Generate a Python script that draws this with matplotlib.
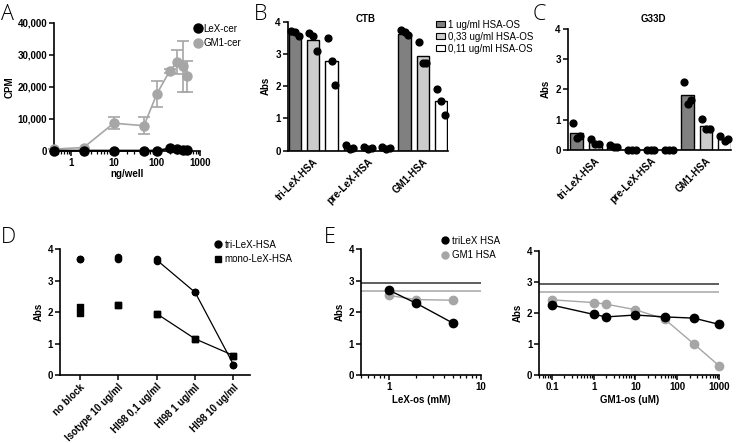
import matplotlib
matplotlib.use("Agg")
import matplotlib.pyplot as plt
import matplotlib.ticker as mticker
import numpy as np
from matplotlib.patches import Patch
from matplotlib.lines import Line2D

plt.rcParams['font.family'] = ['Liberation Sans', 'DejaVu Sans']
plt.rcParams['font.size'] = 7
plt.rcParams['axes.linewidth'] = 1.2

# ---------------- data ----------------
# Panel A
a_x = [0.4, 2, 10, 50, 100, 200, 300, 400, 500]
a_lex = [0, 0, 0, 0, 0, 700, 600, 200, 200]
a_gm1 = [500, 1000, 8600, 7800, 17800, 25000, 27800, 26400, 23200]
a_gm1_err = [0, 0, 1800, 2700, 4100, 600, 3700, 7900, 4800]

# Panels B and C
bar_groups = ["tri-LeX-HSA", "pre-LeX-HSA", "GM1-HSA"]
conc_labels = ["1 ug/ml HSA-OS", "0,33 ug/ml HSA-OS", "0,11 ug/ml HSA-OS"]
b_means = [3.62, 3.43, 2.77, 0.10, 0.08, 0.07, 3.63, 2.95, 1.55]
b_points = [[3.70, 3.68, 3.55], [3.65, 3.55, 3.10], [3.48, 2.77, 2.03],
            [0.18, 0.05, 0.08], [0.12, 0.05, 0.07], [0.10, 0.05, 0.08],
            [3.75, 3.68, 3.60], [3.37, 2.73, 2.73], [1.92, 1.55, 1.10]]
c_means = [0.57, 0.25, 0.10, 0.0, 0.0, 0.0, 1.80, 0.78, 0.37]
c_points = [[0.87, 0.38, 0.45], [0.37, 0.18, 0.20], [0.15, 0.08, 0.10],
            [0.0, 0.0, 0.0], [0.0, 0.0, 0.0], [0.0, 0.0, 0.0],
            [2.23, 1.50, 1.65], [1.03, 0.67, 0.67], [0.47, 0.30, 0.35]]

# Panel D
d_cats = ["no block", "Isotype 10 ug/ml", "HI98 0,1 ug/ml", "HI98 1 ug/ml", "HI98 10 ug/ml"]
d_tri = [[3.70, 3.70], [3.75, 3.68], [3.70, 3.62], [2.63, 2.63], [0.33, 0.33]]
d_mono = [[2.17, 1.98], [2.23, 2.23], [1.95, 1.95], [1.15, 1.15], [0.62, 0.62]]
d_line_idx = [2, 3, 4]

# Panel E
e1_x = [1, 2, 5]
e1_tri = [2.70, 2.28, 1.65]
e1_gm1 = [2.53, 2.40, 2.38]
e2_x = [0.1, 1, 2, 10, 50, 250, 1000]
e2_tri = [2.25, 1.95, 1.87, 1.93, 1.87, 1.83, 1.63]
e2_gm1 = [2.42, 2.33, 2.28, 2.10, 1.80, 1.00, 0.30]
e_ref_tri = 2.93
e_ref_gm1 = 2.67

# ---------------- figure ----------------
W, H = 736, 443
fig = plt.figure(figsize=(W / 100, H / 100), dpi=100)

def add_ax(left, right, top, bottom):
    return fig.add_axes([left / W, 1 - bottom / H, (right - left) / W, (bottom - top) / H])

GRAY = '#a6a6a6'
DARK = '#808080'
LIGHT = '#cccccc'

def style(ax):
    for s in ['top', 'right']:
        ax.spines[s].set_visible(False)
    ax.tick_params(direction='out', length=3.5, width=1.1, labelsize=7, pad=1.5)
    ax.tick_params(which='minor', length=2, width=0.9)
    for lab in ax.get_xticklabels() + ax.get_yticklabels():
        lab.set_fontweight('bold')

def rot_labels(ax, labels):
    ax.set_xticklabels(labels, rotation=45, ha='right', va='top', rotation_mode='anchor',
                       fontweight='bold', fontsize=7)

def letter(x, y, t):
    fig.text(x / W, 1 - y / H, t, fontsize=15.5, fontweight='light', va='top', ha='left',
             family=['Open Sans', 'DejaVu Sans'])

def title(x, y, t):
    fig.text(x / W, 1 - y / H, t, fontsize=7, fontweight='bold', va='center', ha='center')

# ----- Panel A -----
axA = add_ax(54, 200, 22.7, 150.7)
axA.set_xscale('log')
axA.set_xlim(0.41, 1000)
axA.set_ylim(0, 40000)
axA.errorbar(a_x, a_gm1, yerr=a_gm1_err, color=GRAY, marker='o', ms=6.5, lw=1.2,
             capsize=4, elinewidth=1.2, capthick=1.2, clip_on=False, zorder=3)
axA.plot(a_x, a_lex, color='black', marker='o', ms=6.5, lw=1.5, clip_on=False, zorder=4)
axA.set_yticks([0, 10000, 20000, 30000, 40000])
axA.yaxis.set_major_formatter(mticker.FuncFormatter(lambda v, p: f"{int(v):,}"))
axA.xaxis.set_major_formatter(mticker.FuncFormatter(lambda v, p: f"{v:g}"))
axA.set_ylabel("CPM", fontweight='bold', fontsize=7, labelpad=2)
axA.set_xlabel("ng/well", fontweight='bold', fontsize=7, labelpad=1)
style(axA)
axA.legend(handles=[Line2D([], [], color='black', marker='o', ms=6.5, ls=''),
                    Line2D([], [], color=GRAY, marker='o', ms=6.5, ls='')],
           labels=["LeX-cer", "GM1-cer"], loc='upper left', bbox_to_anchor=(189 / W, 1 - 19 / H),
           bbox_transform=fig.transFigure, frameon=False, fontsize=7, handletextpad=0.2,
           handlelength=0.8, borderpad=0, labelspacing=0.45)
letter(1, 4, "A")

# ----- Panels B / C -----
bar_colors = [DARK, LIGHT, 'white']
jit = [-0.22, 0.0, 0.2]

def bar_panel(ax, means, points, xlim):
    xs = np.arange(len(means))
    cols = [bar_colors[i % 3] for i in xs]
    ax.bar(xs, means, width=0.68, color=cols, edgecolor='black', linewidth=1.0, zorder=2)
    for i, pts in enumerate(points):
        ax.scatter([i + j for j in jit], pts, s=24, color='black', zorder=3, clip_on=False)
    ax.set_xlim(*xlim)
    ax.set_ylim(0, 4)
    ax.set_yticks([0, 1, 2, 3, 4])
    ax.set_xticks([1, 4, 7])
    ax.set_ylabel("Abs", fontweight='bold', fontsize=7, labelpad=3)
    style(ax)
    rot_labels(ax, bar_groups)
    ax.tick_params(axis='x', length=0, pad=4)

axB = add_ax(287.7, 448, 21.7, 150.7)
bar_panel(axB, b_means, b_points, (-0.4, 8.38))
title(366, 19, "CTB")
axB.legend(handles=[Patch(facecolor=c, edgecolor='black', lw=0.8) for c in bar_colors],
           labels=conc_labels, loc='upper left', bbox_to_anchor=(431 / W, 1 - 15 / H),
           bbox_transform=fig.transFigure, frameon=False, fontsize=7, handletextpad=0.3,
           handlelength=0.9, handleheight=0.55, borderpad=0, labelspacing=0.2)
letter(254, 4, "B")

axC = add_ax(567.7, 731, 29, 149.7)
bar_panel(axC, c_means, c_points, (-0.49, 8.35))
title(653, 19, "G33D")
letter(533, 4, "C")

# ----- Panel D -----
axD = add_ax(60, 250, 249.3, 375)
for i in range(len(d_cats)):
    axD.scatter([i] * len(d_tri[i]), d_tri[i], marker='o', s=20, color='black', zorder=3, clip_on=False)
    axD.scatter([i] * len(d_mono[i]), d_mono[i], marker='s', s=24, color='black', zorder=3, clip_on=False)
axD.plot(d_line_idx, [np.mean(d_tri[i]) for i in d_line_idx], color='black', lw=0.9)
axD.plot(d_line_idx, [np.mean(d_mono[i]) for i in d_line_idx], color='black', lw=0.9)
axD.set_xlim(-0.52, 4.43)
axD.set_ylim(0, 4)
axD.set_yticks([0, 1, 2, 3, 4])
axD.set_xticks(range(len(d_cats)))
axD.set_ylabel("Abs", fontweight='bold', fontsize=7, labelpad=3)
style(axD)
rot_labels(axD, d_cats)
axD.legend(handles=[Line2D([], [], color='black', marker='o', ms=5, ls=''),
                    Line2D([], [], color='black', marker='s', ms=5, ls='')],
           labels=["tri-LeX-HSA", "mono-LeX-HSA"], loc='upper left',
           bbox_to_anchor=(209 / W, 1 - 235 / H), bbox_transform=fig.transFigure,
           frameon=False, fontsize=7, handletextpad=0.3, handlelength=0.8, borderpad=0,
           labelspacing=0.45)
letter(1, 227, "D")

# ----- Panel E -----
def e_panel(ax, x, tri, gm1, xlim):
    ax.set_xscale('log')
    ax.axhline(e_ref_tri, color='#333333', lw=1.1)
    ax.axhline(e_ref_gm1, color=GRAY, lw=1.1)
    ax.plot(x, gm1, color=GRAY, marker='o', ms=6, lw=1.0, zorder=3, clip_on=False)
    ax.plot(x, tri, color='black', marker='o', ms=6, lw=1.0, zorder=4, clip_on=False)
    ax.set_xlim(*xlim)
    ax.set_ylim(0, 4)
    ax.set_yticks([0, 1, 2, 3, 4])
    ax.xaxis.set_major_formatter(mticker.FuncFormatter(lambda v, p: f"{v:g}"))
    ax.xaxis.set_minor_formatter(mticker.NullFormatter())
    ax.set_ylabel("Abs", fontweight='bold', fontsize=7, labelpad=3)
    style(ax)

axE1 = add_ax(361, 480.7, 249.3, 375)
e_panel(axE1, e1_x, e1_tri, e1_gm1, (0.5, 10))
axE1.set_xlabel("LeX-os (mM)", fontweight='bold', fontsize=7, labelpad=2)
axE1.legend(handles=[Line2D([], [], color='black', marker='o', ms=5, ls=''),
                     Line2D([], [], color=GRAY, marker='o', ms=5, ls='')],
            labels=["triLeX HSA", "GM1 HSA"], loc='upper left',
            bbox_to_anchor=(436 / W, 1 - 231 / H), bbox_transform=fig.transFigure,
            frameon=False, fontsize=7, handletextpad=0.3, handlelength=0.8, borderpad=0,
            labelspacing=0.45)
letter(324, 227, "E")

axE2 = add_ax(539.3, 719, 250.7, 375)
e_panel(axE2, e2_x, e2_tri, e2_gm1, (0.05, 1000))
axE2.set_xlabel("GM1-os (uM)", fontweight='bold', fontsize=7, labelpad=2)

fig.savefig("out.png", dpi=100)
